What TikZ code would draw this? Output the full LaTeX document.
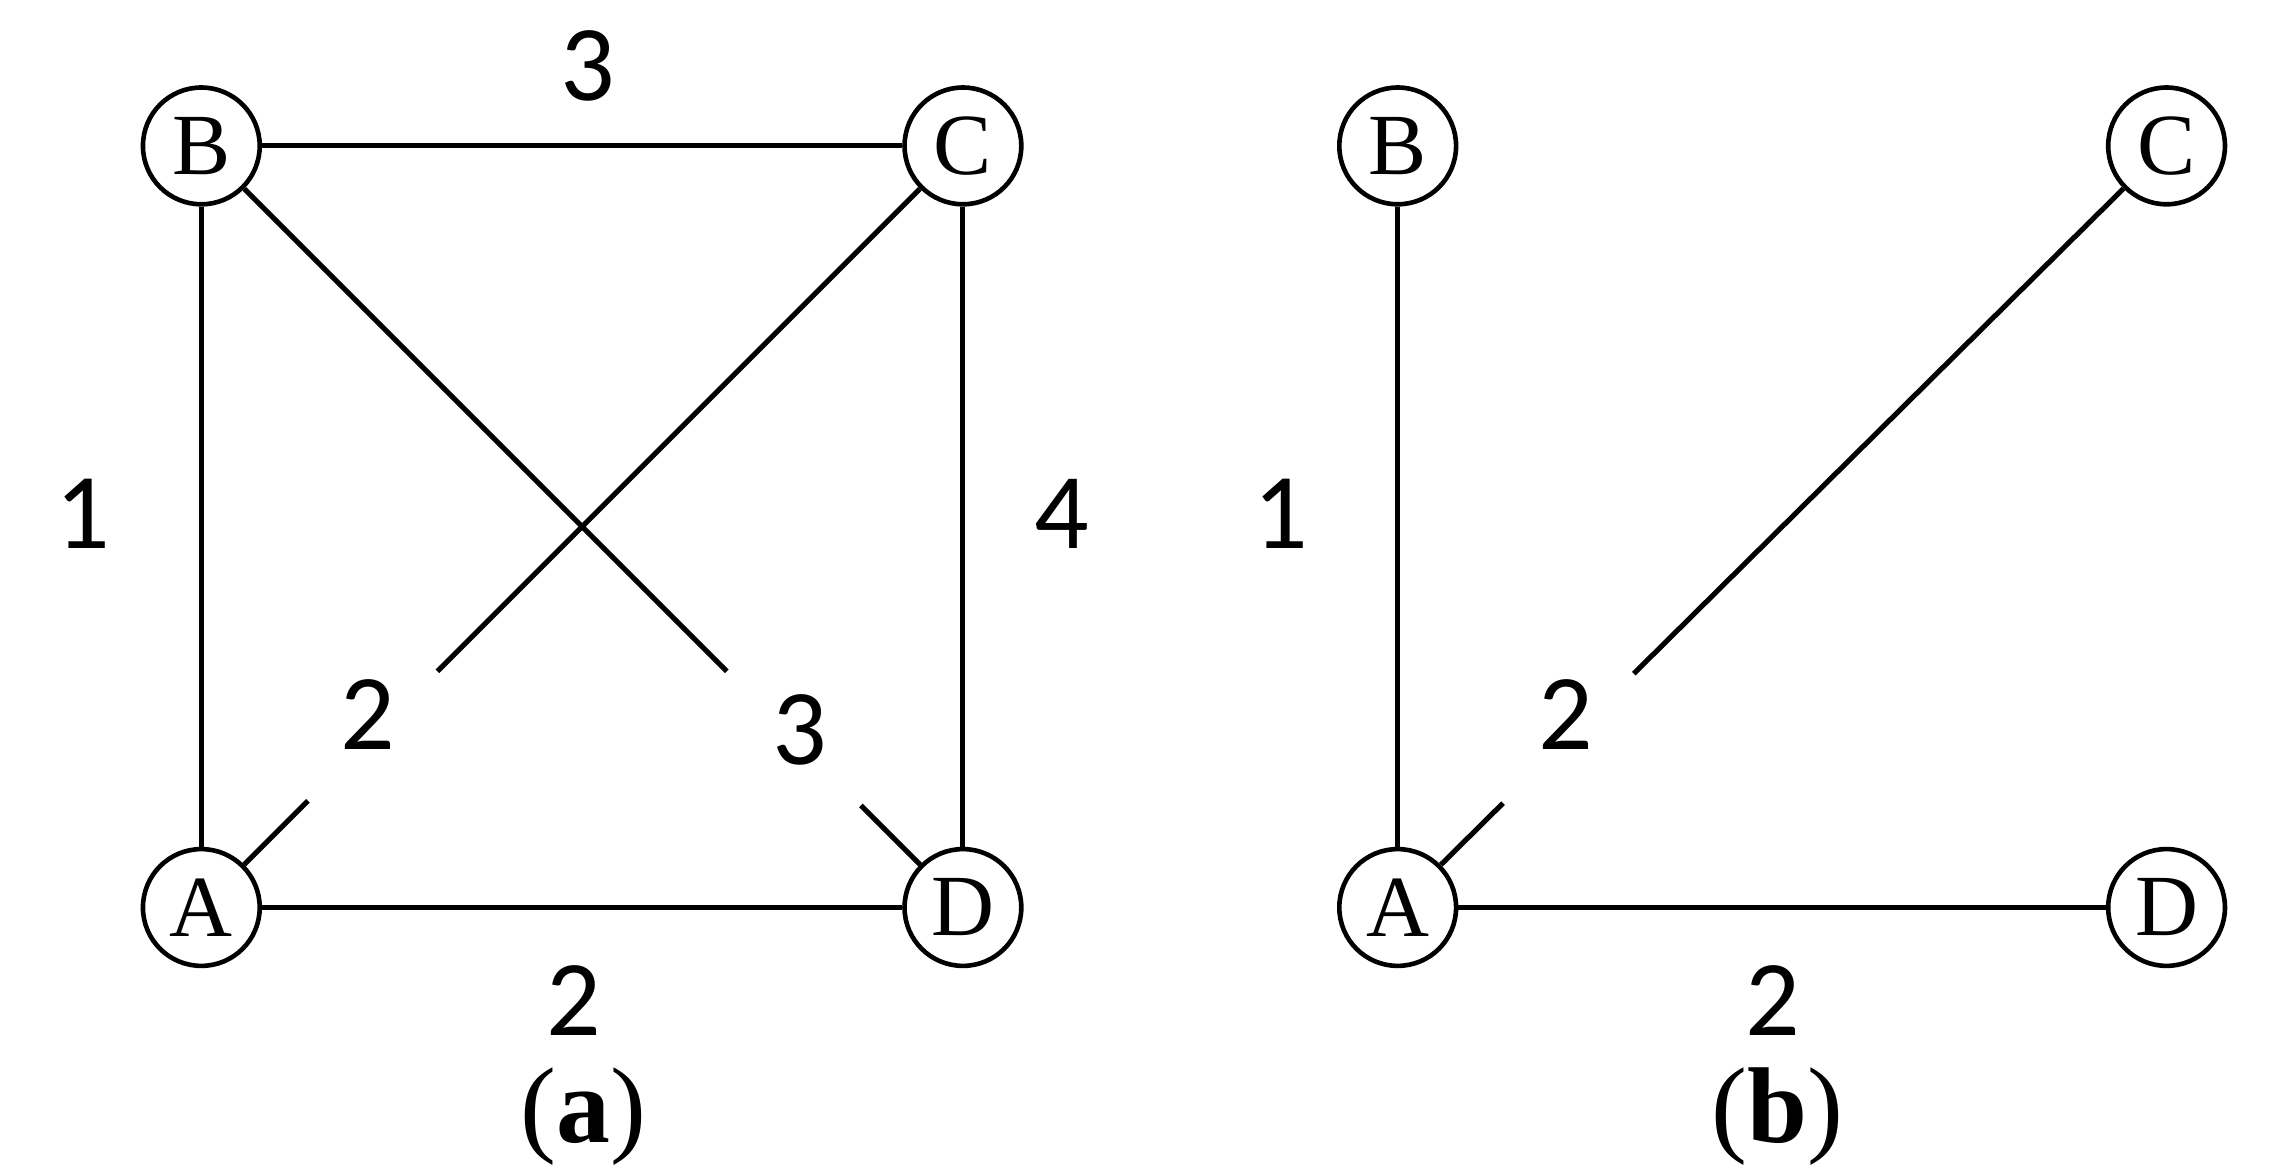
\documentclass[tikz,border=0pt]{standalone}
\usepackage{fontspec}
\setmainfont{Liberation Serif}
\newfontfamily\lblfont{Carlito}
\usetikzlibrary{calc}
\begin{document}
\begin{tikzpicture}[x=0.01cm,y=-0.01cm,
  vtx/.style={circle,draw,line width=0.9pt,minimum size=0.8cm,inner sep=0pt,font=\fontsize{17}{17}\selectfont},
  edge/.style={line width=1pt},
  wlbl/.style={font=\lblfont\fontsize{21}{21}\selectfont},
  captxt/.style={font=\fontsize{21}{21}\selectfont}]
\useasboundingbox (0,0) rectangle (1560,800);
% (a)
\node[vtx] (aB) at (138,100) {B};
\node[vtx] (aC) at (660,100) {C};
\node[vtx] (aA) at (138,622) {A};
\node[vtx] (aD) at (660,622) {D};
\draw[edge] (aB) -- (aC);
\draw[edge] (aB) -- (aA);
\draw[edge] (aC) -- (aD);
\draw[edge] (aA) -- (aD);
\coordinate (ac1) at ($(aA)!0.14!(aC)$);
\coordinate (ac2) at ($(aA)!0.31!(aC)$);
\draw[edge] (aA) -- (ac1);
\draw[edge] (ac2) -- (aC);
\coordinate (bd1) at ($(aB)!0.69!(aD)$);
\coordinate (bd2) at ($(aB)!0.866!(aD)$);
\draw[edge] (aB) -- (bd1);
\draw[edge] (bd2) -- (aD);
\node[wlbl] (l1) at (403,45) {3};
\node[wlbl] (l2) at (57,352) {1};
\node[wlbl] (l3) at (728,352) {4};
\node[wlbl] (l4) at (252,490) {2};
\node[wlbl] (l5) at (548,500) {3};
\node[wlbl] (l6) at (393,686) {2};
\node[captxt] (ca) at (400,765) {(\textbf{a})};
% (b)
\node[vtx] (bB) at (958,100) {B};
\node[vtx] (bC) at (1485,100) {C};
\node[vtx] (bA) at (958,622) {A};
\node[vtx] (bD) at (1485,622) {D};
\draw[edge] (bB) -- (bA);
\draw[edge] (bA) -- (bD);
\coordinate (bc1) at ($(bA)!0.137!(bC)$);
\coordinate (bc2) at ($(bA)!0.307!(bC)$);
\draw[edge] (bA) -- (bc1);
\draw[edge] (bc2) -- (bC);
\node[wlbl] (m1) at (878,352) {1};
\node[wlbl] (m2) at (1073,490) {2};
\node[wlbl] (m3) at (1215,686) {2};
\node[captxt] (cb) at (1218,765) {(\textbf{b})};
\end{tikzpicture}
\end{document}
